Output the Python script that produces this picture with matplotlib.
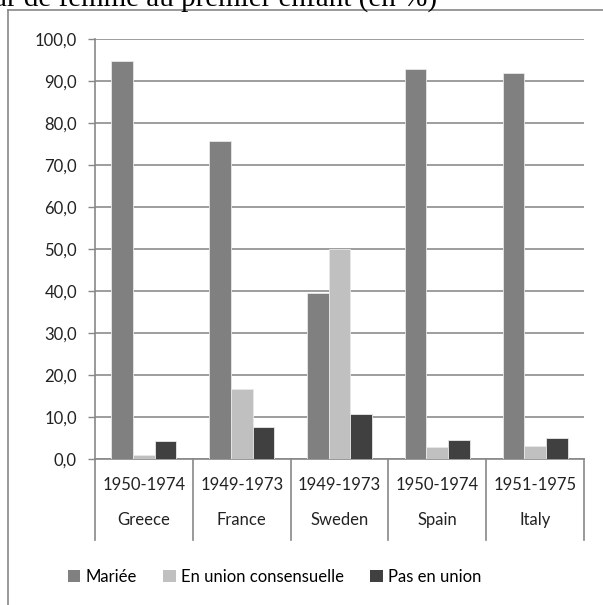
import matplotlib
matplotlib.use('Agg')
import matplotlib.pyplot as plt
from matplotlib.lines import Line2D
from matplotlib.patches import Patch
import numpy as np

# Données
countries = ['Greece', 'France', 'Sweden', 'Spain', 'Italy']
periods = ['1950-1974', '1949-1973', '1949-1973', '1950-1974', '1951-1975']
mariee = [94.8, 75.6, 39.4, 92.7, 91.9]
consensuelle = [0.8, 16.6, 49.9, 2.8, 3.1]
pas_union = [4.2, 7.6, 10.6, 4.4, 4.9]
series_names = ['Mariée', 'En union consensuelle', 'Pas en union']
colors = ['#808080', '#c0c0c0', '#404040']

plt.rcParams['font.family'] = ['Lato', 'DejaVu Sans']
W, H = 603, 605
fig = plt.figure(figsize=(W / 100, H / 100), dpi=100)
ax = fig.add_axes([95 / W, (H - 458.7) / H, (584 - 95) / W, 420 / H])

x = np.arange(len(countries))
bw = 0.222
for i, vals in enumerate([mariee, consensuelle, pas_union]):
    ax.bar(x + (i - 1) * bw, vals, width=bw, color=colors[i],
           edgecolor='#e8e8e8', linewidth=0.6, zorder=3)

ax.set_xlim(-0.5, len(countries) - 0.5)
ax.set_ylim(0, 100)
ax.set_yticks(np.arange(0, 101, 10))
ax.set_yticklabels([f'{v:.1f}'.replace('.', ',') for v in np.arange(0, 101, 10)],
                   fontsize=12, color='#222222')
ax.tick_params(axis='y', direction='out', length=5, width=1, color='#888888', pad=8)
ax.set_xticks([])
ax.grid(axis='y', color='#8c8c8c', linewidth=1.2, zorder=0)
for s in ['top', 'right']:
    ax.spines[s].set_visible(False)
for s in ['left', 'bottom']:
    ax.spines[s].set_color('#888888')
    ax.spines[s].set_linewidth(1.2)

# axe des catégories à deux niveaux
trans = ax.get_xaxis_transform()
for b in np.arange(-0.5, len(countries), 1.0):
    ax.plot([b, b], [0, -0.194], transform=trans, color='#888888',
            linewidth=1.2, clip_on=False)
for i in range(len(countries)):
    ax.text(x[i], -0.063, periods[i], transform=trans, ha='center', va='center',
            fontsize=12, color='#222222')
    ax.text(x[i], -0.146, countries[i], transform=trans, ha='center', va='center',
            fontsize=12, color='#222222')

handles = [Patch(facecolor=c, edgecolor='none') for c in colors]
fig.legend(handles, series_names, loc='center', bbox_to_anchor=(0.455, 28 / H),
           ncol=3, frameon=False, fontsize=12, handlelength=0.75, handleheight=0.75,
           handletextpad=0.3, columnspacing=1.6)

# cadre du graphique
fig.add_artist(Line2D([8 / W, 8 / W], [0, (H - 10) / H], color='#888888', linewidth=1.2))
fig.add_artist(Line2D([8 / W, 1], [(H - 10) / H, (H - 10) / H], color='#888888', linewidth=1.2))

# titre (coupé en haut)
fig.text(437 / W, (H - 7) / H, 'ar de femme au premier enfant (en %)', ha='right',
         va='baseline', fontsize=21, family='Liberation Serif', color='black')

fig.savefig('out.png', dpi=100)
